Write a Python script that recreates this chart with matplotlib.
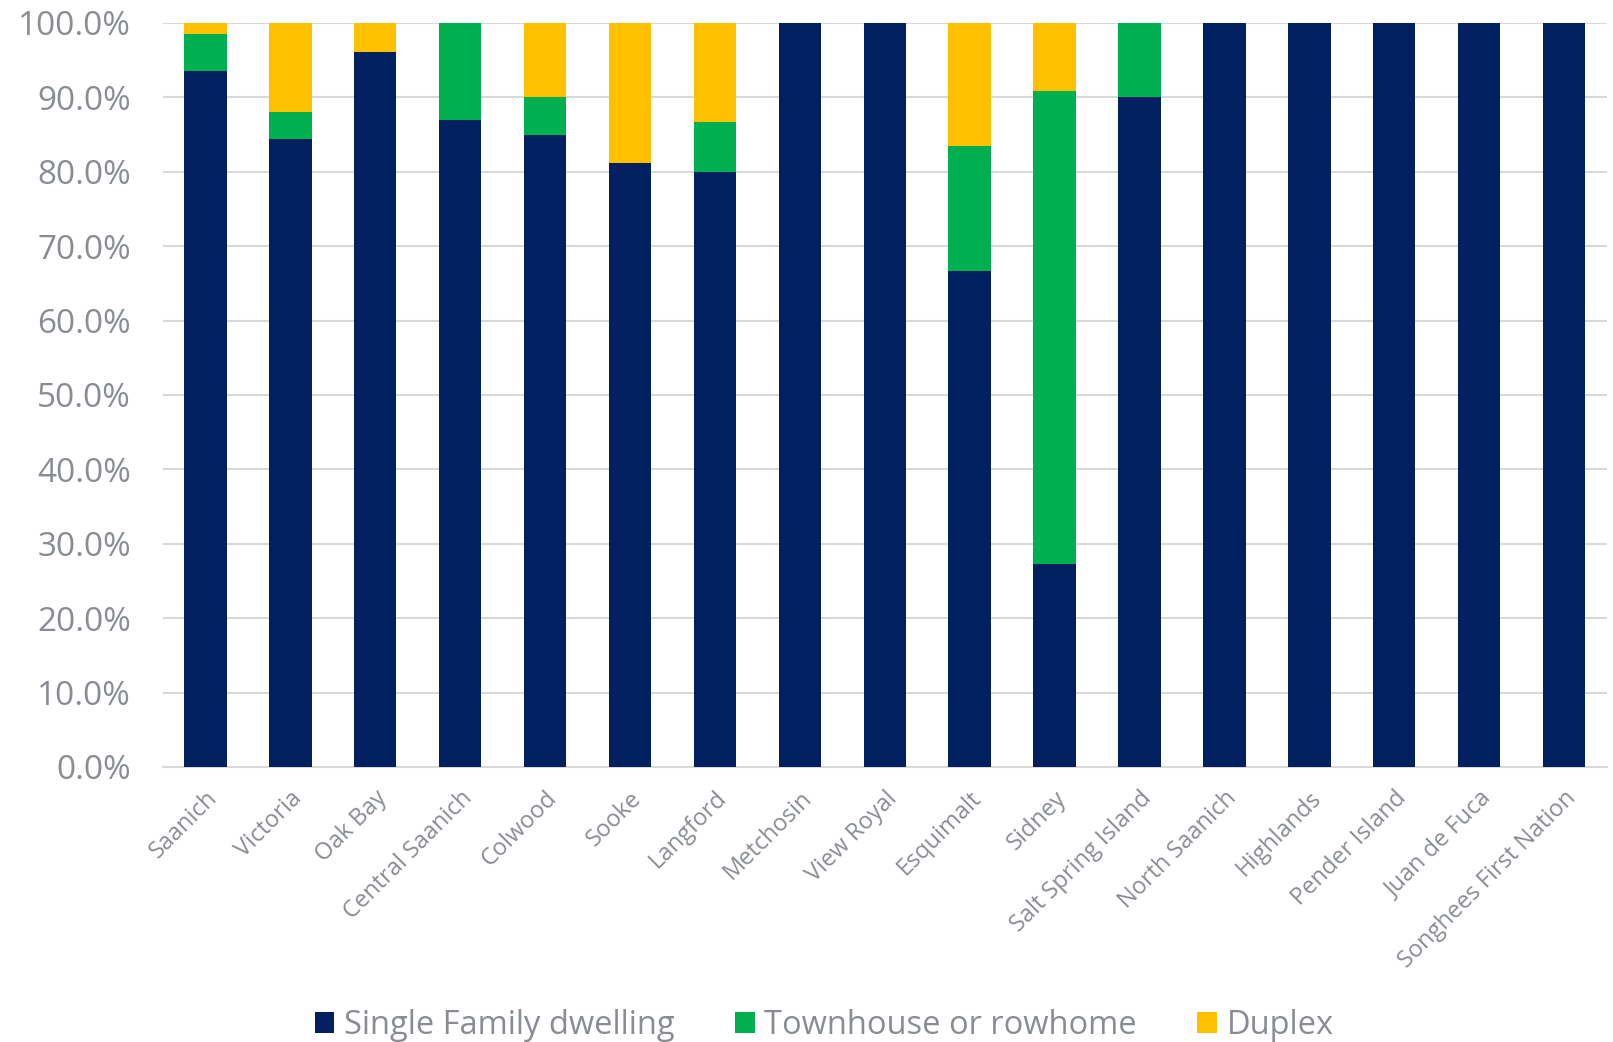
import numpy as np
import matplotlib.pyplot as plt
from matplotlib.ticker import PercentFormatter
from matplotlib.patches import Patch

plt.rcParams['font.family'] = ['Open Sans', 'DejaVu Sans']

# Данные
areas = ['Saanich', 'Victoria', 'Oak Bay', 'Central Saanich', 'Colwood', 'Sooke',
         'Langford', 'Metchosin', 'View Royal', 'Esquimalt', 'Sidney',
         'Salt Spring Island', 'North Saanich', 'Highlands', 'Pender Island',
         'Juan de Fuca', 'Songhees First Nation']
single_family = [93.6, 84.4, 96.1, 86.9, 85.0, 81.2, 80.0, 100.0, 100.0, 66.7, 27.3,
                 90.0, 100.0, 100.0, 100.0, 100.0, 100.0]
townhouse = [4.9, 3.6, 0.0, 13.1, 5.0, 0.0, 6.7, 0.0, 0.0, 16.7, 63.6,
             10.0, 0.0, 0.0, 0.0, 0.0, 0.0]
duplex = [1.5, 12.0, 3.9, 0.0, 10.0, 18.8, 13.3, 0.0, 0.0, 16.6, 9.1,
          0.0, 0.0, 0.0, 0.0, 0.0, 0.0]
series_names = ['Single Family dwelling', 'Townhouse or rowhome', 'Duplex']

colors = ['#002060', '#00B050', '#FFC000']
text_color = '#898D93'
grid_color = '#D9D9D9'

fig = plt.figure(figsize=(16.13, 10.42), dpi=100)
ax = fig.add_axes([0.101, 0.264, 0.895, 0.714])

x = np.arange(len(areas))
bottom = np.zeros(len(areas))
for vals, c in zip([single_family, townhouse, duplex], colors):
    vals = np.array(vals)
    ax.bar(x, vals, width=0.5, bottom=bottom, color=c, zorder=3)
    bottom += vals

ax.set_ylim(0, 100)
ax.set_xlim(-0.5, len(areas) - 0.5)
ax.set_yticks(np.arange(0, 101, 10))
ax.yaxis.set_major_formatter(PercentFormatter(decimals=1))
ax.grid(axis='y', color=grid_color, linewidth=1.5, zorder=0)
for s in ['top', 'right', 'left']:
    ax.spines[s].set_visible(False)
ax.spines['bottom'].set_color(grid_color)
ax.spines['bottom'].set_linewidth(1.5)

ax.tick_params(axis='both', length=0, colors=text_color)
ax.tick_params(axis='y', labelsize=24, pad=23)
ax.set_xticks(x)
ax.set_xticklabels(areas, rotation=45, ha='right', rotation_mode='anchor',
                   fontsize=17)
ax.tick_params(axis='x', pad=14)

handles = [Patch(facecolor=c, edgecolor='none') for c in colors]
leg = fig.legend(handles, series_names, loc='center', bbox_to_anchor=(0.511, 0.016),
                 ncol=3, frameon=False, fontsize=23.5, handlelength=0.6,
                 handleheight=0.6, handletextpad=0.3, columnspacing=1.85)
for t in leg.get_texts():
    t.set_color(text_color)

fig.savefig('out.png', dpi=100)
plt.close()
